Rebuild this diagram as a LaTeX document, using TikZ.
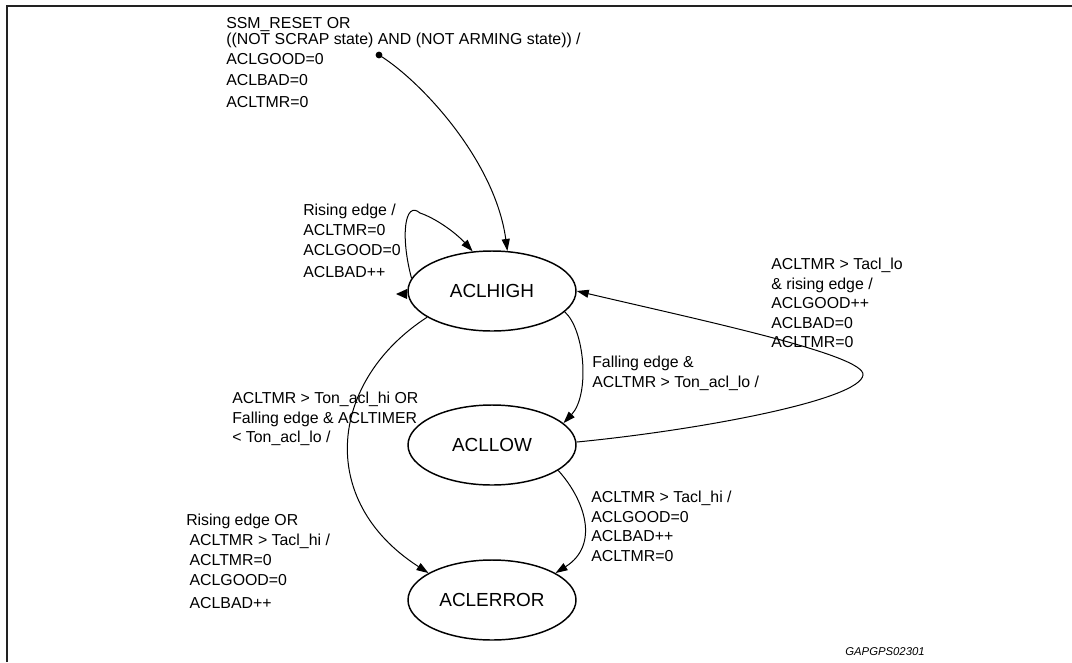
\documentclass[tikz,border=0pt]{standalone}
\usepackage{fontspec}
\setmainfont{Liberation Sans}
\usepackage{tikz}
\usetikzlibrary{arrows.meta,shapes.geometric}
\definecolor{framegray}{HTML}{222222}

\begin{document}
\begin{tikzpicture}[x=0.75pt,y=-0.75pt,
    state/.style={draw,ellipse,line width=1.1pt,minimum width=126pt,minimum height=60pt,inner sep=0pt,font=\fontsize{14.2}{17}\selectfont},
    edge/.style={-{Triangle[length=9pt,width=6pt]},line width=0.75pt},
    lbl/.style={anchor=north west,inner sep=0pt,align=left,font=\fontsize{11.9}{14.6}\selectfont}]
      \useasboundingbox (0,0) rectangle (1072,662);
      % Frame
      \draw[framegray,line width=1.6pt] (7,662) -- (7,6) -- (1072,6);
      % States
      \node[state] (high) at (492,291) {ACLHIGH};
      \node[state] (low) at (492,445) {ACLLOW};
      \node[state] (err) at (492,600) {ACLERROR};
      % Entry point
      \coordinate (init) at (379,55);
      \fill (init) circle[radius=3.4];
      \draw[edge] (init) .. controls (420,80) and (495,160) .. (high.69);
      \node[lbl] (initlbl) at (226,17) {SSM\_RESET OR\\[-2.6pt]
        ((NOT SCRAP state) AND (NOT ARMING state)) /\\[0.8pt]
        ACLGOOD=0\\[1.1pt]
        ACLBAD=0\\[1.9pt]
        ACLTMR=0};
      % Self loop on ACLHIGH
      \draw[edge] (high.171) .. controls (400,235) and (405,200) .. (420,213)
        .. controls (435,218) and (455,232) .. (high.116);
      \fill (396,294) -- (407,289) -- (407,299) -- cycle;
      \node[lbl] (looplbl) at (303,204) {Rising edge /\\[0.4pt]
        ACLTMR=0\\[0.4pt]
        ACLGOOD=0\\[1.9pt]
        ACLBAD++};
      % ACLHIGH -> ACLLOW
      \draw[edge] (high.-16) .. controls (585,330) and (590,395) .. (low.17);
      \node[lbl] (hllbl) at (592,356) {Falling edge \&\\ACLTMR > Ton\_acl\_lo /};
      % ACLLOW -> ACLHIGH
      \draw[edge] (low.2) .. controls (700,430) and (860,400) .. (863,375)
        .. controls (866,355) and (700,320) .. (high.east);
      \node[lbl] (lhlbl) at (771,258) {ACLTMR > Tacl\_lo\\\& rising edge /\\ACLGOOD++\\ACLBAD=0\\ACLTMR=0};
      % ACLHIGH -> ACLERROR
      \draw[edge] (high.202) .. controls (330,380) and (315,500) .. (err.157);
      \node[lbl] (helbl) at (232,392) {ACLTMR > Ton\_acl\_hi OR\\Falling edge \& ACLTIMER\\< Ton\_acl\_lo /};
      % ACLLOW -> ACLERROR
      \draw[edge] (low.-21) .. controls (585,500) and (600,545) .. (err.23);
      \node[lbl] (lelbl) at (591,491) {ACLTMR > Tacl\_hi /\\ACLGOOD=0\\ACLBAD++\\ACLTMR=0};
      % Note left of ACLERROR
      \node[lbl] (errlbl) at (186,514) {Rising edge OR\\
        \hspace*{2.5pt}ACLTMR > Tacl\_hi /\\[0.4pt]
        \hspace*{2.5pt}ACLTMR=0\\[0.4pt]
        \hspace*{2.5pt}ACLGOOD=0\\[2.6pt]
        \hspace*{2.5pt}ACLBAD++};
      % Figure tag
      \node[font=\fontsize{8.5}{10}\selectfont\itshape] (tag) at (885,652) {GAPGPS02301};
    \end{tikzpicture}
\end{document}
